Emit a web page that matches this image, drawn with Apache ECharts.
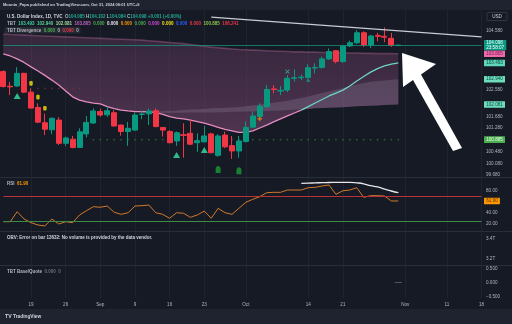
<!DOCTYPE html>
<html>
<head>
<meta charset="utf-8">
<script src="https://cdn.jsdelivr.net/npm/echarts@6/dist/echarts.min.js"></script>
<style>
  html, body { margin: 0; padding: 0; background: #161a25; }
  #chart { width: 512px; height: 324px; }
</style>
</head>
<body>
<div id="chart"></div>
<script>
// ---- U.S. Dollar Index (TVC), daily bars ----
const days = [
  '2024-08-13','2024-08-14','2024-08-15','2024-08-16',
  '2024-08-19','2024-08-20','2024-08-21','2024-08-22','2024-08-23',
  '2024-08-26','2024-08-27','2024-08-28','2024-08-29','2024-08-30',
  '2024-09-02','2024-09-03','2024-09-04','2024-09-05','2024-09-06',
  '2024-09-09','2024-09-10','2024-09-11','2024-09-12','2024-09-13',
  '2024-09-16','2024-09-17','2024-09-18','2024-09-19','2024-09-20',
  '2024-09-23','2024-09-24','2024-09-25','2024-09-26','2024-09-27',
  '2024-09-30','2024-10-01','2024-10-02','2024-10-03','2024-10-04',
  '2024-10-07','2024-10-08','2024-10-09','2024-10-10','2024-10-11',
  '2024-10-14','2024-10-15','2024-10-16','2024-10-17','2024-10-18',
  '2024-10-21','2024-10-22','2024-10-23','2024-10-24','2024-10-25',
  '2024-10-28','2024-10-29','2024-10-30','2024-10-31','2024-11-01',
  '2024-11-04','2024-11-05','2024-11-06','2024-11-07','2024-11-08',
  '2024-11-11','2024-11-12','2024-11-13','2024-11-14','2024-11-15',
  '2024-11-18'
];

const priceOpen = [
  103.20,102.70,102.71,103.14,102.50,101.98,101.46,101.22,101.55,100.76,
  100.90,100.62,101.08,101.45,101.84,101.73,101.80,101.38,101.16,101.21,
  101.74,101.76,101.87,101.30,101.16,100.84,101.05,101.10,100.78,100.81,
  101.08,100.35,101.04,100.68,100.50,100.82,101.31,101.67,102.00,102.61,
  102.54,102.57,102.97,102.99,103.00,103.32,103.34,103.63,103.91,103.54,
  104.07,104.18,104.52,104.10,104.43,104.40,104.33,104.085
];
const priceHigh = [
  103.24,102.85,103.35,103.16,102.63,102.12,101.77,101.64,101.65,100.99,
  101.01,101.27,101.69,101.95,101.94,102.01,101.89,101.40,101.49,101.80,
  101.87,101.95,101.95,101.31,101.21,101.16,101.44,101.55,101.10,101.35,
  101.12,101.07,101.16,101.01,101.01,101.50,101.84,102.12,102.74,102.74,
  102.71,103.08,103.28,103.10,103.45,103.48,103.71,103.99,103.93,104.10,
  104.25,104.61,104.57,104.45,104.52,104.70,104.52,104.102
];
const priceLow = [
  102.66,102.40,102.68,102.47,101.94,101.45,101.04,101.07,100.70,100.67,
  100.59,100.61,100.96,101.43,101.67,101.66,101.32,101.02,100.67,101.18,
  101.58,101.38,101.30,100.99,100.76,100.67,100.27,100.70,100.47,100.79,
  100.42,100.30,100.60,100.23,100.27,100.79,101.29,101.61,101.98,102.46,
  102.40,102.50,102.86,102.90,102.96,103.14,103.30,103.60,103.48,103.50,
  104.04,104.14,104.04,104.00,104.23,104.20,104.04,104.084
];
const priceClose = [
  102.69,102.68,103.14,102.50,101.96,101.48,101.24,101.61,100.76,100.94,
  100.62,101.15,101.47,101.86,101.72,101.87,101.35,101.16,101.27,101.72,
  101.76,101.86,101.33,101.21,100.78,101.12,101.03,100.73,100.85,101.01,
  100.44,101.01,100.64,100.50,100.84,101.30,101.69,102.02,102.59,102.59,
  102.56,102.97,102.99,103.01,103.33,103.34,103.63,103.88,103.54,104.07,
  104.18,104.52,104.10,104.41,104.40,104.37,104.097,104.098
];

// TBT trend line (pink while falling, teal once rising)
const tbtLine = [
  103.80,103.73,103.63,103.51,103.36,103.22,103.07,102.91,102.74,102.54,
  102.34,102.23,102.17,102.13,102.10,102.01,101.94,101.89,101.86,101.84,
  101.84,101.83,101.81,101.74,101.67,101.62,101.59,101.55,101.50,101.45,
  101.38,101.30,101.23,101.18,101.13,101.13,101.18,101.28,101.38,101.49,
  101.59,101.69,101.79,101.89,102.01,102.13,102.25,102.37,102.47,102.57,
  102.71,102.88,103.03,103.18,103.30,103.39,103.45,103.493
];
// upper edge of the TBT cloud
const tbtUpper = [
  104.48,104.46,104.45,104.44,104.43,104.42,104.41,104.40,104.39,104.38,
  104.37,104.36,104.35,104.34,104.33,104.32,104.31,104.30,104.29,104.28,
  104.27,104.25,104.23,104.21,104.19,104.17,104.15,104.12,104.09,104.06,
  104.03,104.01,103.99,103.97,103.95,103.94,103.93,103.92,103.91,103.90,
  103.89,103.88,103.87,103.87,103.86,103.86,103.85,103.85,103.84,103.84,
  103.83,103.83,103.82,103.82,103.81,103.81,103.81,103.805
];
// inner grey wedge of the cloud
const grayTop = [
  null,null,null,null,null,null,null,null,null,null,
  null,null,null,null,null,null,null,null,null,null,
  101.80,101.82,101.83,101.85,101.86,101.87,101.89,101.91,101.92,101.93,
  101.95,101.96,101.97,101.98,101.99,102.02,102.05,102.08,102.11,102.14,
  102.17,102.21,102.26,102.30,102.35,102.41,102.47,102.52,102.58,102.64,
  102.70,102.76,102.81,102.85,102.88,102.90,102.92,102.94
];
const grayBottom = [
  null,null,null,null,null,null,null,null,null,null,
  null,null,null,null,null,null,null,null,null,null,
  101.80,101.80,101.80,101.80,101.80,101.80,101.80,101.81,101.81,101.81,
  101.81,101.82,101.82,101.83,101.83,101.84,101.84,101.85,101.86,101.87,
  101.88,101.89,101.90,101.92,101.93,101.95,101.96,101.97,101.98,101.99,
  102.00,102.02,102.03,102.04,102.05,102.06,102.07,102.081
];
const supportLevel = 100.885;
const resistanceLevel = 106.241;
const supportFrom = '2024-08-30';
const redDotDays = ['2024-08-20','2024-08-21','2024-08-22','2024-08-23','2024-08-26','2024-08-27','2024-08-28'];
const redDotLevel = 102.63;

// signal markers
const yellowMarks = [['2024-08-19',102.80],['2024-08-20',102.33],['2024-08-21',101.95]];
const buyTriangles = [['2024-08-15',102.37],['2024-09-17',100.36],['2024-09-23',100.53]];
const smallTriangles = [['2024-10-14',102.91]];
const greenDrops = [['2024-09-25',99.87],['2024-09-30',99.83]];
const orangePlus = [['2024-10-03',101.59]];
const tealCross = [['2024-10-09',103.20]];

// drawings
const trendLine = [['2024-09-24',105.05],['2024-11-18',104.38]];
const arrowShape = [
  [57.53,103.832],[62.44,103.458],[60.27,103.10],[66.19,100.60],
  [64.89,100.498],[59.12,102.913],[57.68,102.675]
];

// RSI
const rsiValues = [
  24.2,24.2,42.4,29.1,22.4,18.2,16.4,29.1,20.0,24.2,
  22.4,36.4,44.2,51.5,50.4,52.7,41.3,37.6,40.5,52.7,
  53.3,54.5,40.5,37.6,30.4,40.5,39.5,32.2,36.4,43.6,
  30.4,48.5,40.5,37.6,48.5,59.5,64.9,69.6,76.9,77.6,
  77.6,81.8,81.8,81.8,86.0,86.7,89.1,90.9,74.0,80.5,
  81.8,86.0,68.5,71.5,71.5,70.9,61.8,61.90
];
const rsiArcDays = ['2024-10-11','2024-10-14','2024-10-15','2024-10-16','2024-10-17','2024-10-18',
  '2024-10-21','2024-10-22','2024-10-23','2024-10-24','2024-10-25','2024-10-28','2024-10-29','2024-10-30','2024-10-31'];
const rsiArcValues = [94.0,94.3,94.8,95.2,95.5,95.7,95.8,95.8,94.9,93.1,89.6,87.3,83.6,80.0,76.9];
const rsiUpper = 70;
const rsiLower = 25;

// axis ticks
const priceTicks = [104.58,102.58,101.68,101.28,100.48,100.08,99.68];
const rsiTicks = [80,40,20];
const obvTicks = [3.4,3.2];
const baseQuoteTicks = [0.5,0,-0.5];
const dateTicks = ['2024-08-19','2024-08-26','2024-09-02','2024-09-09','2024-09-16','2024-09-23',
  '2024-10-01','2024-10-14','2024-10-21','2024-11-01','2024-11-11','2024-11-18'];
const dateTickText = ['19','26','Sep','9','16','23','Oct','14','21','Nov','11','18'];
const lastBarTime = '23:58:07';

// ---------------------------------------------------------------
const FONT = 'Liberation Sans';
const AX = '#b2b5be';
const FS = 4.6;
const LS = 4.5;
const NONE = 'rgba(0,0,0,0)';
const tickSet = new Set(dateTicks);
const tickName = {};
dateTicks.forEach((d, i) => { tickName[d] = dateTickText[i]; });

const last = priceClose.length - 1;
const candles = priceOpen.map((o, k) => [o, priceClose[k], priceLow[k], priceHigh[k]]);
const cloudBase = tbtLine.map((v, k) => grayBottom[k] == null ? v : Math.min(v, grayBottom[k]));
const cloudSpan = tbtUpper.map((v, k) => v - cloudBase[k]);
const graySpan = grayTop.map((v, k) => v == null ? null : v - grayBottom[k]);
const splitIdx = days.indexOf('2024-10-11');
const tbtFalling = tbtLine.map((v, k) => k <= splitIdx ? v : null);
const tbtRising = tbtLine.map((v, k) => k >= splitIdx ? v : null);
const supportDots = days.slice(days.indexOf(supportFrom), last + 1).map(d => [d, supportLevel]);
const redDots = redDotDays.map(d => [d, redDotLevel]);

const f3 = v => v.toFixed(3);
const signed = v => (v >= 0 ? '+' : '−') + Math.abs(v).toFixed(3);
const change = priceClose[last] - priceClose[last - 1];

function priceBox(value, text, bg, fg, line, lh) {
  return {
    yAxis: value,
    lineStyle: line || { color: NONE, width: 0.1 },
    label: {
      show: true, position: 'end', distance: 2.5, formatter: text,
      backgroundColor: bg, color: fg, fontSize: FS, fontFamily: FONT,
      padding: [1, 2.2, 0.6, 2.2], lineHeight: lh || 5, borderRadius: 0.5
    }
  };
}

const gridPos = { left: 3.3, right: 30.5 };
const xAxes = [0, 1, 2, 3].map(g => ({
  type: 'category', gridIndex: g, data: days, boundaryGap: false,
  axisLine: { show: false }, axisTick: { show: false },
  axisLabel: {
    show: g === 3, interval: (i, v) => tickSet.has(v), formatter: v => tickName[v] || '',
    color: AX, fontSize: FS, fontFamily: FONT, margin: 4.5
  },
  splitLine: { show: true, interval: (i, v) => tickSet.has(v), lineStyle: { color: 'rgba(255,255,255,0.045)', width: 1 } }
}));

function yAxisDef(g, min, max, ticks, fmt) {
  return {
    type: 'value', gridIndex: g, position: 'right', min, max, scale: true,
    axisLine: { show: false }, axisTick: { show: false },
    axisLabel: { customValues: ticks, formatter: fmt, color: AX, fontSize: FS, fontFamily: FONT, margin: 4.5 },
    splitLine: { show: false }
  };
}

const rs = (color, size) => ({ color, fontSize: size || LS, fontFamily: FONT });
const titleRow = (text, left, top, rich, size) => ({
  text, left, top, padding: 0,
  textStyle: { fontSize: size || LS, fontFamily: FONT, color: '#d1d4dc', rich }
});

const option = {
  animation: false,
  backgroundColor: '#161a25',
  textStyle: { fontFamily: FONT },
  grid: [
    { ...gridPos, top: 10, height: 167 },
    { ...gridPos, top: 178, height: 53 },
    { ...gridPos, top: 232, height: 33 },
    { ...gridPos, top: 266, height: 32 }
  ],
  xAxis: xAxes,
  yAxis: [
    yAxisDef(0, 99.614, 105.294, priceTicks, v => v.toFixed(3)),
    yAxisDef(1, 7.27, 103.64, rsiTicks, v => v.toFixed(2)),
    yAxisDef(2, 3.14, 3.47, obvTicks, v => v.toFixed(1) + 'T'),
    yAxisDef(3, -0.546, 0.581, baseQuoteTicks, v => (v < 0 ? '−' : '') + Math.abs(v).toFixed(3))
  ],
  title: [
    titleRow('Moonin_Papa published on TradingView.com, Oct 31, 2024 09:01 UTC+9', 3, 2.8, {}, 4.0),
    titleRow(
      '{n|U.S. Dollar Index, 1D, TVC}  {k|O}{v|' + f3(priceOpen[last]) + '} {k|H}{v|' + f3(priceHigh[last]) +
      '} {k|L}{v|' + f3(priceLow[last]) + '} {k|C}{v|' + f3(priceClose[last]) + '} {v|' + signed(change) + ' (+0.00%)}',
      7, 14, { n: rs('#d1d4dc'), k: rs('#b2b5be'), v: rs('#22ab94') }),
    titleRow(
      '{k|TBT}  {a|' + f3(tbtLine[last]) + '}  {b|' + f3(grayTop[last]) + '}  {c|' + f3(grayBottom[last]) +
      '}  {d|' + f3(tbtUpper[last]) + '}  {e|0.000}  {w|0.000}  {o|0.000}  {e|0.000}  {p|0.000}  {y|0.000}  {u|0.000}  {r|0.000}  {g|' +
      f3(supportLevel) + '}  {r|' + f3(resistanceLevel) + '}',
      7, 21, {
        k: rs('#b2b5be'), a: rs('#3ecf9a'), b: rs('#5fd39c'), c: rs('#a5dca0'), d: rs('#c064c4'),
        e: rs('#4caf50'), w: rs('#e8e8e8'), o: rs('#ff9800'), p: rs('#d34bd8'), y: rs('#f5e21b'),
        u: rs('#2f5cff'), r: rs('#f23645'), g: rs('#8bc34a')
      }),
    titleRow('{k|TBT Divergence}  {g|0.000}  {k|0}  {r|0.000}  {k|0}', 7, 28,
      { k: rs('#b2b5be'), g: rs('#4caf50'), r: rs('#f23645') }),
    titleRow('{k|RSI}  {o|' + rsiValues[last].toFixed(2) + '}', 7, 181, { k: rs('#b2b5be'), o: rs('#ff9800') }),
    titleRow('OBV: Error on bar 13632: No volume is provided by the data vendor.', 7, 235, {}),
    titleRow('{k|TBT Base/Quote}  {m|0.000}  {m|0}', 7, 269, { k: rs('#b2b5be'), m: rs('#6a6d78') }),
    { text: '{t|TV} {n|TradingView}', left: 5, top: 314, padding: 0,
      textStyle: { fontSize: 5, fontFamily: FONT, rich: {
        t: { fontSize: 5.2, fontWeight: 'bold', color: '#d1d4dc', fontFamily: FONT },
        n: { fontSize: 4.8, color: '#d1d4dc', fontFamily: FONT } } } }
  ],
  graphic: { elements: [
    { type: 'rect', z: 0, shape: { x: 0, y: 0, width: 512, height: 10 }, style: { fill: '#1f232f' } },
    { type: 'rect', z: 0, shape: { x: 0, y: 309, width: 512, height: 15 }, style: { fill: '#1f232f' } },
    { type: 'rect', z: 0, shape: { x: 0, y: 177, width: 512, height: 1 }, style: { fill: '#2a2e39' } },
    { type: 'rect', z: 0, shape: { x: 0, y: 231, width: 512, height: 1 }, style: { fill: '#2a2e39' } },
    { type: 'rect', z: 0, shape: { x: 0, y: 265, width: 512, height: 1 }, style: { fill: '#2a2e39' } },
    { type: 'rect', z: 0, shape: { x: 4.5, y: 27, width: 76, height: 6.4, r: 1 }, style: { fill: 'rgba(255,255,255,0.07)' } },
    { type: 'rect', z: 5, shape: { x: 487, y: 12.5, width: 20, height: 8, r: 1 }, style: { fill: '#161a25', stroke: '#3a3e4a', lineWidth: 0.8 } },
    { type: 'text', z: 6, x: 497, y: 16.7, style: { text: 'USD', fill: '#d1d4dc', fontSize: FS, fontFamily: FONT, align: 'center', verticalAlign: 'middle' } }
  ] },
  series: [
    // TBT cloud
    { type: 'line', xAxisIndex: 0, yAxisIndex: 0, z: 1, stack: 'cloud', data: cloudBase, symbol: 'none', lineStyle: { opacity: 0 }, silent: true },
    { type: 'line', xAxisIndex: 0, yAxisIndex: 0, z: 1, stack: 'cloud', data: cloudSpan, symbol: 'none', lineStyle: { opacity: 0 }, silent: true,
      areaStyle: { opacity: 1, color: new echarts.graphic.LinearGradient(0, 0, 0, 1, [
        { offset: 0, color: 'rgba(100,58,96,0.40)' }, { offset: 1, color: 'rgba(150,84,132,0.44)' }]) } },
    { type: 'line', xAxisIndex: 0, yAxisIndex: 0, z: 1, stack: 'gray', data: grayBottom, symbol: 'none', lineStyle: { opacity: 0 }, silent: true },
    { type: 'line', xAxisIndex: 0, yAxisIndex: 0, z: 1, stack: 'gray', data: graySpan, symbol: 'none', lineStyle: { opacity: 0 }, silent: true,
      areaStyle: { opacity: 1, color: 'rgba(170,160,185,0.22)' } },
    { type: 'line', xAxisIndex: 0, yAxisIndex: 0, z: 1, data: tbtUpper, symbol: 'none', silent: true,
      lineStyle: { color: 'rgba(225,125,185,0.30)', width: 1.6 } },
    // level dots
    { type: 'scatter', xAxisIndex: 0, yAxisIndex: 0, z: 2, data: supportDots, symbol: 'circle', symbolSize: 1.8, itemStyle: { color: '#2f6e3d' }, silent: true },
    { type: 'scatter', xAxisIndex: 0, yAxisIndex: 0, z: 2, data: redDots, symbol: 'circle', symbolSize: 1.8, itemStyle: { color: '#7a2d38' }, silent: true },
    // TBT line
    { type: 'line', xAxisIndex: 0, yAxisIndex: 0, z: 2, data: tbtFalling, symbol: 'none', silent: true, lineStyle: { color: '#e48bc0', width: 1.3 } },
    { type: 'line', xAxisIndex: 0, yAxisIndex: 0, z: 2, data: tbtRising, symbol: 'none', silent: true, lineStyle: { color: '#6fd3c4', width: 1.3 } },
    // price
    { type: 'candlestick', xAxisIndex: 0, yAxisIndex: 0, z: 3, data: candles, barWidth: '80%', silent: true,
      itemStyle: { color: '#089981', color0: '#f23645', borderColor: '#089981', borderColor0: '#f23645', borderWidth: 1 },
      markLine: { silent: true, symbol: ['none', 'none'], animation: false, precision: 3,
        data: [
          priceBox(tbtUpper[last], f3(tbtUpper[last]), '#ec6aab', '#7a1650'),
          priceBox(tbtLine[last], f3(tbtLine[last]), '#5fd6b8', '#0b4a3f'),
          priceBox(grayTop[last], f3(grayTop[last]), '#6fdcbc', '#0b4a3f'),
          priceBox(grayBottom[last], f3(grayBottom[last]), '#6fdcbc', '#0b4a3f'),
          priceBox(supportLevel, f3(supportLevel), '#4caf50', '#eaffea'),
          priceBox(priceClose[last], f3(priceClose[last]) + '\n' + lastBarTime, '#089981', '#ffffff',
                   { color: 'rgba(20,150,128,0.75)', width: 1, type: 'solid' }, 4.4)
        ] } },
    // signals
    { type: 'scatter', xAxisIndex: 0, yAxisIndex: 0, z: 4, data: yellowMarks, symbol: 'roundRect', symbolSize: [3.4, 4.6], itemStyle: { color: '#f5e00c' }, silent: true },
    { type: 'scatter', xAxisIndex: 0, yAxisIndex: 0, z: 4, data: buyTriangles, symbol: 'triangle', symbolSize: [7, 6], itemStyle: { color: '#34e3a0' }, silent: true },
    { type: 'scatter', xAxisIndex: 0, yAxisIndex: 0, z: 4, data: smallTriangles, symbol: 'triangle', symbolSize: [4.5, 3.5], itemStyle: { color: '#17a37a' }, silent: true },
    { type: 'scatter', xAxisIndex: 0, yAxisIndex: 0, z: 4, data: greenDrops, symbol: 'path://M0,4 C0,1.8 1.8,0 4,0 C6.2,0 8,1.8 8,4 L8,10 L0,10 Z', symbolSize: [5, 7], itemStyle: { color: '#1a9a37' }, silent: true },
    { type: 'scatter', xAxisIndex: 0, yAxisIndex: 0, z: 4, data: orangePlus, symbol: 'path://M3,0 L5,0 L5,3 L8,3 L8,5 L5,5 L5,8 L3,8 L3,5 L0,5 L0,3 L3,3 Z', symbolSize: 4.5, itemStyle: { color: '#ff9800' }, silent: true },
    { type: 'scatter', xAxisIndex: 0, yAxisIndex: 0, z: 4, data: tealCross, symbol: 'path://M1,0 L4,3 L7,0 L8,1 L5,4 L8,7 L7,8 L4,5 L1,8 L0,7 L3,4 L0,1 Z', symbolSize: 4.5, itemStyle: { color: '#2fbf8f' }, silent: true },
    // drawings
    { type: 'line', xAxisIndex: 0, yAxisIndex: 0, z: 6, data: trendLine, symbol: 'none', silent: true, lineStyle: { color: '#c9cbd1', width: 1.3 } },
    { type: 'custom', xAxisIndex: 0, yAxisIndex: 0, z: 10, silent: true, clip: false, data: [[0, 100]],
      renderItem: (params, api) => {
        const pts = arrowShape.map(([x, p]) => {
          const k0 = Math.floor(x);
          const a = api.coord([k0, p]);
          const b = api.coord([k0 + 1, p]);
          return [a[0] + (b[0] - a[0]) * (x - k0), a[1]];
        });
        return { type: 'polygon', shape: { points: pts }, style: { fill: '#ffffff' } };
      } },
    // RSI pane
    { type: 'line', xAxisIndex: 1, yAxisIndex: 1, z: 3, data: rsiValues, symbol: 'none', silent: true,
      lineStyle: { color: '#d2792a', width: 1 },
      markLine: { silent: true, symbol: ['none', 'none'], animation: false,
        data: [
          { yAxis: rsiUpper, lineStyle: { color: '#b8323a', width: 1, type: 'solid' }, label: { show: false } },
          { yAxis: rsiLower, lineStyle: { color: '#3f8a45', width: 1, type: 'solid' }, label: { show: false } },
          priceBox(rsiValues[last], rsiValues[last].toFixed(2), '#ff9800', '#5a2c00')
        ] } },
    { type: 'line', xAxisIndex: 1, yAxisIndex: 1, z: 4, data: rsiArcDays.map((d, i) => [d, rsiArcValues[i]]),
      symbol: 'none', smooth: true, silent: true, lineStyle: { color: '#e6e6ea', width: 1.3 } },
    // Base/Quote pane
    { type: 'scatter', xAxisIndex: 3, yAxisIndex: 3, z: 3, data: [[days[last], 0]], symbol: 'rect', symbolSize: [7, 0.8], itemStyle: { color: '#787b86' }, silent: true }
  ]
};

const chart = echarts.init(document.getElementById('chart'));
chart.setOption(option);
</script>
</body>
</html>
